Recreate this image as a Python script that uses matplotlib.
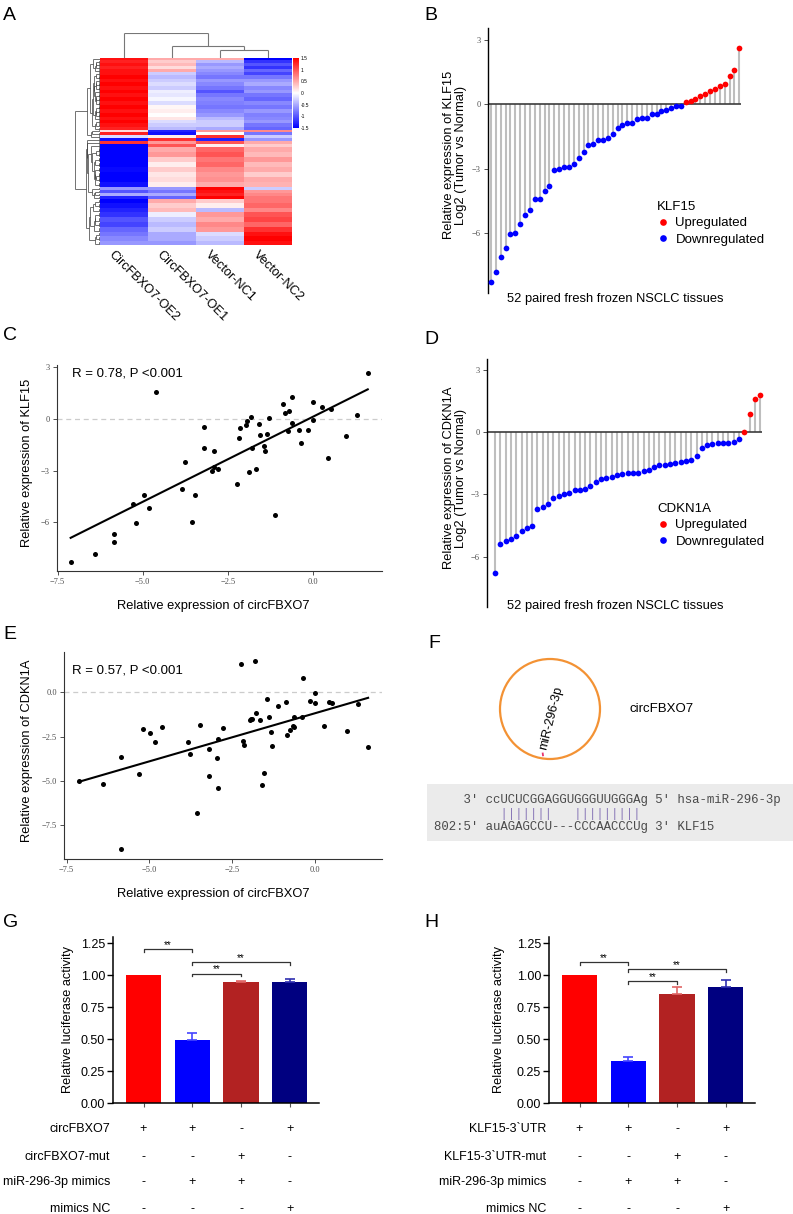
import numpy as np
import matplotlib
matplotlib.use("Agg")
import matplotlib.pyplot as plt
from matplotlib.colors import LinearSegmentedColormap
from matplotlib.collections import LineCollection
from matplotlib.patches import Circle, Rectangle
from matplotlib.lines import Line2D
import matplotlib.transforms as mtransforms

plt.rcParams['font.family'] = ['Liberation Sans', 'DejaVu Sans']

# ---------------- data ----------------
hm_samples = ["CircFBXO7-OE2", "CircFBXO7-OE1", "Vector-NC1", "Vector-NC2"]
hm_rows = [2, 3, 3, 3, 3, 3, 4, 3, 4, 4, 3, 4, 4, 4, 4, 4, 4, 3, 3, 4, 3,
           2, 3, 3, 3, 3, 3,
           5, 5, 5, 5, 5, 5, 5, 5,
           3, 3, 3, 3,
           4, 5, 4,
           5, 5, 5, 5,
           4, 5, 4]
hm_oe2 = [1.4, 1.3, 1.4, 1.3, 1.4, 1.4, 1.5, 1.4, 1.5, 1.4, 1.5, 1.4, 1.5, 1.4, 1.5, 1.4, 1.5, 1.4, 1.5, 1.4, 1.3,
          0.2, 1.3, -0.2, -1.4, 1.2, -1.5,
          -1.5, -1.5, -1.5, -1.5, -1.45, -1.5, -1.5, -1.4,
          -0.6, -1.0, -0.5, -1.3,
          -1.5, -1.4, -1.3,
          -1.2, -1.0, -1.1, -0.9,
          -0.8, -0.7, -0.6]
hm_oe1 = [0.5, 0.3, 0.4, 0.2, 0.5, -0.3, -0.4, -0.3, -0.2, -0.3, -0.1, -0.15, -0.05, -0.2, 0.05, 0.1, 0.0, 0.15, -0.2, -0.3, -0.4,
          -1.3, -1.4, 0.1, 1.2, 0.6, 1.0,
          0.5, 0.6, 0.3, 0.1, 0.3, 0.15, 0.2, 0.1,
          -0.6, -0.8, -0.5, -0.9,
          0.5, 0.3, 0.4,
          -0.1, -0.3, -0.4, -0.3,
          -0.5, -0.5, -0.6]
hm_nc1 = [0.5, -0.4, -0.6, -0.5, -0.6, -0.7, -0.8, -0.6, -0.7, -0.8, -1.0, -0.8, -0.7, -0.75, -0.8, -0.7, -0.6, -0.4, -0.3, -0.3, -0.5,
          0.6, 0.0, 1.2, -1.3, 1.0, 0.1,
          0.9, 1.0, 0.8, 0.9, 0.7, 0.6, 0.65, 0.5,
          1.5, 1.4, 1.3, 1.5,
          0.3, 0.1, -0.4,
          0.6, 0.5, 0.7, 0.6,
          -0.2, -0.3, -0.4]
hm_nc2 = [-1.5, -1.2, -1.0, -1.2, -0.9, -1.1, -0.8, -0.6, -0.5, -0.7, -0.6, -0.8, -0.9, -0.7, -0.8, -0.6, -0.75, -0.7, -0.6, -0.8, -0.9,
          0.7, -0.8, -0.3, -0.6, 0.5, 0.3,
          0.5, 0.4, 0.6, 0.4, 0.5, 0.3, 0.5, 0.45,
          -0.3, 0.6, 0.7, 0.8,
          0.8, 0.9, 0.7,
          1.0, 1.1, 0.9, 1.2,
          1.4, 1.5, 1.4]

klf15_fc = [-8.29, -7.83, -7.10, -6.68, -6.06, -6.00, -5.60, -5.18, -4.94, -4.41, -4.40, -4.04, -3.81,
            -3.05, -3.02, -2.95, -2.95, -2.80, -2.49, -2.25, -1.88, -1.87, -1.69, -1.69, -1.57, -1.38,
            -1.10, -0.98, -0.90, -0.89, -0.70, -0.64, -0.64, -0.48, -0.44, -0.33, -0.28, -0.20, -0.08, -0.08,
            0.08, 0.14, 0.26, 0.37, 0.48, 0.61, 0.70, 0.85, 0.96, 1.29, 1.60, 2.64]
cdkn1a_fc = [-6.80, -5.40, -5.23, -5.15, -5.00, -4.75, -4.62, -4.52, -3.71, -3.62, -3.44, -3.17, -3.07,
             -2.96, -2.94, -2.80, -2.78, -2.72, -2.59, -2.38, -2.27, -2.22, -2.17, -2.08, -2.03, -1.98,
             -1.95, -1.95, -1.87, -1.83, -1.69, -1.58, -1.56, -1.55, -1.47, -1.42, -1.39, -1.35, -1.14,
             -0.74, -0.63, -0.55, -0.53, -0.53, -0.50, -0.45, -0.32,
             0.0, 0.87, 1.61, 1.80]

circ_c = [-7.12, -6.40, -5.85, -5.85, -5.30, -5.19, -4.96, -4.81, -4.60, -3.84, -3.76, -3.56, -3.46,
          -3.19, -3.19, -2.96, -2.92, -2.90, -2.78, -2.24, -2.16, -2.14, -1.97, -1.95, -1.88, -1.82,
          -1.78, -1.67, -1.59, -1.55, -1.43, -1.40, -1.34, -1.29, -1.13, -0.87, -0.82, -0.74, -0.69,
          -0.63, -0.62, -0.40, -0.36, -0.14, -0.01, 0.00, 0.27, 0.44, 0.52, 0.96, 1.29, 1.61]
klf15_c = [-8.28, -7.84, -6.70, -7.12, -4.94, -6.04, -4.40, -5.19, 1.56, -4.05, -2.51, -5.98, -4.42,
           -0.46, -1.68, -3.01, -2.82, -1.87, -2.93, -3.80, -1.14, -0.52, -0.39, -0.12, -3.07, 0.10,
           -1.70, -2.93, -0.31, -0.93, -1.58, -1.89, -0.91, 0.04, -5.60, 0.85, 0.35, -0.71, 0.46,
           1.27, -0.23, -0.66, -1.43, -0.66, 0.95, -0.08, 0.66, -2.28, 0.56, -1.00, 0.21, 2.63]

circ_e = [-7.14, -6.41, -5.86, -5.86, -5.31, -5.21, -4.97, -4.83, -4.62, -3.85, -3.78, -3.56, -3.47,
          -3.20, -3.20, -2.97, -2.92, -2.92, -2.79, -2.25, -2.17, -2.14, -1.97, -1.94, -1.89, -1.82,
          -1.77, -1.67, -1.59, -1.55, -1.44, -1.40, -1.33, -1.29, -1.13, -0.88, -0.84, -0.75, -0.68,
          -0.64, -0.63, -0.40, -0.36, -0.15, -0.01, -0.01, 0.27, 0.43, 0.51, 0.96, 1.30, 1.60]
cdkn1a_e = [-5.03, -5.18, -3.63, -8.87, -4.63, -2.07, -2.30, -2.81, -1.98, -2.82, -3.47, -6.84, -1.86,
            -3.18, -4.75, -3.73, -2.62, -5.42, -2.02, 1.58, -2.73, -2.98, -1.56, -1.49, -1.49, 1.77,
            -1.19, -1.56, -5.25, -4.54, -0.38, -1.39, -2.26, -3.01, -0.79, -0.55, -2.39, -2.11, -1.90,
            -1.37, -1.98, -1.41, 0.83, -0.49, -0.02, -0.58, -1.88, -0.57, -0.60, -2.20, -0.68, -3.09]

luc_colors = ["#FF0000", "#0000FF", "#B22222", "#000080"]
luc_err_colors = ["#FF0000", "#4444FF", "#E06666", "#3030B0"]
g_values = [1.0, 0.49, 0.945, 0.948]
g_err = [0.0, 0.06, 0.012, 0.022]
h_values = [1.0, 0.325, 0.853, 0.903]
h_err = [0.0, 0.033, 0.05, 0.058]

g_rows = ["circFBXO7", "circFBXO7-mut", "miR-296-3p mimics", "mimics NC"]
h_rows = ["KLF15-3`UTR", "KLF15-3`UTR-mut", "miR-296-3p mimics", "mimics NC"]
design = [["+", "+", "-", "+"],
          ["-", "-", "+", "-"],
          ["-", "+", "+", "-"],
          ["-", "-", "-", "+"]]
# (left bar, right bar, bracket height, label height)
g_brackets = [(0, 1, 1.20, 1.235), (1, 2, 1.012, 1.047), (1, 3, 1.099, 1.134)]
h_brackets = [(0, 1, 1.10, 1.135), (1, 2, 0.95, 0.985), (1, 3, 1.046, 1.081)]

# ---------------- helpers ----------------
W, H = 793, 1214
fig = plt.figure(figsize=(W / 100, H / 100), dpi=100)


def ax_px(x0, y0, x1, y1, **kw):
    return fig.add_axes([x0 / W, 1 - y1 / H, (x1 - x0) / W, (y1 - y0) / H], **kw)


def fx(x):
    return x / W


def fy(y):
    return 1 - y / H


def adjacent_ward(X, size_boost=0.0, power=0.5):
    X = np.asarray(X, float)
    cl = [[1, X[i].copy(), float(i), 0.0, 0.0] for i in range(len(X))]
    segs = []
    while len(cl) > 1:
        d = [np.sqrt(2 * a[0] * b[0] / (a[0] + b[0])) * np.linalg.norm(a[1] - b[1])
             for a, b in zip(cl[:-1], cl[1:])]
        i = int(np.argmin(d))
        a, b = cl[i], cl[i + 1]
        n = a[0] + b[0]
        h = max(d[i], a[3], b[3])
        hd = max(h ** power + size_boost * np.log2(n), a[4], b[4])
        segs += [[(a[2], a[4]), (a[2], hd)], [(b[2], b[4]), (b[2], hd)], [(a[2], hd), (b[2], hd)]]
        cl[i:i + 2] = [[n, (a[1] * a[0] + b[1] * b[0]) / n, (a[2] + b[2]) / 2, h, hd]]
    return segs, cl[0][4]


def letter(ch, x, y_base):
    fig.text(fx(x), fy(y_base), ch, fontsize=14, ha='left', va='baseline')


serif = 'Liberation Serif'
tick_gray = '#4D4D4D'

# ---------------- Panel A: heatmap ----------------
M = np.column_stack([np.repeat(hm_oe2, hm_rows), np.repeat(hm_oe1, hm_rows),
                     np.repeat(hm_nc1, hm_rows), np.repeat(hm_nc2, hm_rows)])
N = M.shape[0]
cmap = LinearSegmentedColormap.from_list("bwr2", ["#0000FF", "#FFFFFF", "#FF0000"])
axA = ax_px(100, 58, 292, 245)
im = axA.imshow(M, aspect='auto', cmap=cmap, vmin=-1.5, vmax=1.5, interpolation='nearest')
axA.set_axis_off()

# row dendrogram
axR = ax_px(75, 58, 100, 245)
rsegs, rtop = adjacent_ward(M, size_boost=0.12)
rsegs = [[(h, p) for p, h in s] for s in rsegs]
axR.add_collection(LineCollection(rsegs, colors='#3A3A3A', linewidths=0.5))
axR.set_ylim(N - 0.5, -0.5)
axR.set_xlim(rtop * 1.01, 0)
axR.set_axis_off()

# column dendrogram
axT = ax_px(100, 33, 292, 58)
csegs, ctop = adjacent_ward(M.T, power=1.0)
axT.add_collection(LineCollection(csegs, colors='#777777', linewidths=0.8))
axT.set_xlim(-0.5, 3.5)
axT.set_ylim(0, ctop * 1.0)
axT.set_axis_off()

# colorbar
cax = ax_px(293, 58, 299, 128)
cb = fig.colorbar(im, cax=cax, ticks=[-1.5, -1, -0.5, 0, 0.5, 1, 1.5])
cb.ax.set_yticklabels(['-1.5', '-1', '-0.5', '0', '0.5', '1', '1.5'])
cb.ax.tick_params(labelsize=3.5, length=0, pad=1.5)
cb.outline.set_visible(False)

for j, name in enumerate(hm_samples):
    xc = 100 + 48 * j + 24 - 9
    fig.text(fx(xc), fy(249), name, rotation=-45, rotation_mode='anchor',
             ha='left', va='top', fontsize=9.2)

letter('A', 3, 20)

# ---------------- lollipop panels B / D ----------------
def lollipop(box, vals, xlim, ylim, ylabel, gene, legend_top, xlab_y):
    ax = ax_px(*box)
    vals = np.asarray(vals)
    idx = np.arange(1, len(vals) + 1)
    ax.vlines(idx, 0, vals, color='#BEBEBE', lw=1.5, zorder=1)
    ax.hlines(0, xlim[0], idx[-1] + 0.4, color='#3C3C3C', lw=1.2, zorder=2)
    up = vals > 0 if gene == 'KLF15' else vals >= 0
    ax.scatter(idx[~up], vals[~up], s=17, color='#0000FF', lw=0, zorder=3)
    ax.scatter(idx[up], vals[up], s=17, color='#FF0000', lw=0, zorder=3)
    ax.set_xlim(*xlim)
    ax.set_ylim(*ylim)
    ax.set_xticks([])
    ax.set_yticks([-6, -3, 0, 3])
    ax.tick_params(axis='y', labelsize=6, labelcolor=tick_gray, color='#333333',
                   length=3, width=0.6, pad=2, labelfontfamily=serif)
    for s in ['top', 'right', 'bottom']:
        ax.spines[s].set_visible(False)
    ax.spines['left'].set_linewidth(1.0)
    ax.set_ylabel(ylabel, fontsize=9.3, linespacing=1.05)
    x0 = box[0]
    ax.yaxis.set_label_coords((467 - x0) / (box[2] - box[0]), 0.52)
    fig.text(fx(615), fy(xlab_y), "52 paired fresh frozen NSCLC tissues", fontsize=9.3,
             ha='center', va='center')
    handles = [Line2D([], [], ls='none', marker='o', ms=4.8, mec='none', mfc='#FF0000'),
               Line2D([], [], ls='none', marker='o', ms=4.8, mec='none', mfc='#0000FF')]
    fig.legend(handles, ['Upregulated', 'Downregulated'], title=gene, loc='upper left',
               bbox_to_anchor=(fx(657), fy(legend_top)), frameon=False, fontsize=9.5,
               title_fontsize=9.5, alignment='left', borderpad=0, handlelength=0.9,
               handletextpad=0.5, labelspacing=0.32, borderaxespad=0)
    return ax

lollipop((488, 28, 743, 293), klf15_fc, (0.38, 52.76), (-8.8, 3.55),
         "Relative expression of KLF15\nLog2 (Tumor vs Normal)", "KLF15", 201, 299)
letter('B', 424, 20)

lollipop((486.7, 359, 765, 607), cdkn1a_fc, (-0.57, 51.9), (-8.43, 3.54),
         "Relative expression of CDKN1A\nLog2 (Tumor vs Normal)", "CDKN1A", 503, 606)
letter('D', 424, 344)

# ---------------- scatter panels C / E ----------------
def scatter_panel(box, x, y, xlim, ylim, yticks, yfmt, ylabel, rtext, rpos, ylab_x):
    ax = ax_px(*box)
    x = np.asarray(x)
    y = np.asarray(y)
    ax.axhline(0, color='#CCCCCC', lw=0.9, ls=(0, (4, 3)), zorder=1)
    ax.scatter(x, y, s=13, color='black', lw=0, zorder=3)
    m, b = np.polyfit(x, y, 1)
    xs = np.array([x.min(), x.max()])
    ax.plot(xs, m * xs + b, color='black', lw=1.5, zorder=2)
    ax.set_xlim(*xlim)
    ax.set_ylim(*ylim)
    ax.set_xticks([-7.5, -5.0, -2.5, 0.0])
    ax.set_xticklabels(['\u22127.5', '\u22125.0', '\u22122.5', '0.0'])
    ax.set_yticks(yticks)
    ax.set_yticklabels([yfmt(v) for v in yticks])
    ax.tick_params(labelsize=6, labelcolor=tick_gray, color='#333333', length=3,
                   width=0.6, pad=2, labelfontfamily=serif)
    for s in ['top', 'right']:
        ax.spines[s].set_visible(False)
    for s in ['left', 'bottom']:
        ax.spines[s].set_color('#333333')
        ax.spines[s].set_linewidth(0.8)
    ax.text(rpos[0], rpos[1], rtext, transform=ax.transAxes, fontsize=9.5, va='center', ha='left')
    ax.set_ylabel(ylabel, fontsize=9.3)
    ax.yaxis.set_label_coords((ylab_x - box[0]) / (box[2] - box[0]), 0.525)
    ax.set_xlabel("Relative expression of circFBXO7", fontsize=9.3)
    ax.xaxis.set_label_coords((213 - box[0]) / (box[2] - box[0]), -(600 - box[3]) / (box[3] - box[1]))
    return ax

def fmt_int(v):
    return ('\u2212' if v < 0 else '') + str(int(abs(v)))

def fmt_1(v):
    return ('\u2212' if v < 0 else '') + '%.1f' % abs(v)

scatter_panel((56.7, 365, 381.7, 570.7), circ_c, klf15_c, (-7.53, 2.02), (-8.80, 3.11),
              [-6, -3, 0, 3], fmt_int, "Relative expression of KLF15", "R = 0.78, P <0.001",
              (0.047, 0.96), 33)
letter('C', 3, 340)

axE = scatter_panel((64, 652.3, 381.7, 858.7), circ_e, cdkn1a_e, (-7.58, 2.01), (-9.40, 2.26),
                    [-7.5, -5.0, -2.5, 0.0], fmt_1, "Relative expression of CDKN1A",
                    "R = 0.57, P <0.001", (0.025, 0.914), 33)
axE.xaxis.set_label_coords((213 - 64) / (381.7 - 64), -(888 - 858.7) / (858.7 - 652.3))
letter('E', 3, 639)

# ---------------- Panel F ----------------
axF = ax_px(427, 630, 793, 900)
axF.set_xlim(427, 793)
axF.set_ylim(900, 630)
axF.set_axis_off()
axF.add_patch(Circle((550, 709), 50, fill=False, ec='#F39234', lw=1.6))
axF.text(551.5, 718, "miR-296-3p", rotation=76, ha='center', va='center', fontsize=9)
axF.plot([542.6, 543.1], [752.6, 756.2], color='#E8336E', lw=1.3, solid_capstyle='butt')
axF.text(630, 708.5, "circFBXO7", ha='left', va='center', fontsize=9.5)
axF.add_patch(Rectangle((427, 784.3), 366, 56.7, color='#EBEBEB', lw=0))
mono = dict(family='Liberation Mono', fontsize=8.9, color='#4A4A4A', va='center', ha='left')
axF.text(434.3, 800, "    3' ccUCUCGGAGGUGGGUUGGGAg 5' hsa-miR-296-3p", **mono)
axF.text(434.3, 813.5, "         |||||||   |||||||||", **{**mono, 'color': '#8A79B8'})
axF.text(434.3, 827.3, "802:5' auAGAGCCU---CCCAACCCUg 3' KLF15", **mono)
letter('F', 428, 648)

# ---------------- luciferase panels G / H ----------------
def luc_panel(box, vals, errs, brackets, rows, label_x):
    ax = ax_px(*box)
    pos = np.arange(len(vals))
    ax.bar(pos, vals, width=0.72, color=luc_colors, zorder=2)
    for p, v, e, c in zip(pos, vals, errs, luc_err_colors):
        if e > 0:
            ax.errorbar(p, v, yerr=[[0], [e]], fmt='none', ecolor=c, elinewidth=1.2,
                        capsize=3.6, capthick=1.2, zorder=3)
    for l, r, yb, yt in brackets:
        ax.plot([l, l, r, r], [yb - 0.022, yb, yb, yb - 0.022], color='#333333', lw=0.9)
        ax.text((l + r) / 2, yt, "**", ha='center', va='center', fontsize=7)
    ax.set_xlim(-0.62, 3.6)
    ax.set_ylim(0, 1.30)
    ax.set_yticks([0, 0.25, 0.5, 0.75, 1.0, 1.25])
    ax.set_yticklabels(['0.00', '0.25', '0.50', '0.75', '1.00', '1.25'])
    ax.set_xticks(pos)
    ax.set_xticklabels([])
    ax.tick_params(axis='y', labelsize=9, length=4, width=1, pad=2)
    ax.tick_params(axis='x', length=3, width=0.8, color='#555555')
    for s in ['top', 'right']:
        ax.spines[s].set_visible(False)
    for s in ['left', 'bottom']:
        ax.spines[s].set_linewidth(1.1)
    ax.set_ylabel("Relative luciferase activity", fontsize=9.2)
    ax.yaxis.set_label_coords(label_x, 0.505)
    trans = mtransforms.blended_transform_factory(ax.transData, fig.transFigure)
    for r, (name, yrow) in enumerate(zip(rows, [1129, 1157, 1182, 1209])):
        fig.text(fx(box[0] - 3), fy(yrow), name, ha='right', va='center', fontsize=9)
        for p in pos:
            ax.text(p, fy(yrow), design[r][p], transform=trans, ha='center', va='center',
                    fontsize=9)
    return ax

luc_panel((113.3, 936.7, 319, 1103), g_values, g_err, g_brackets, g_rows, -0.193)
letter('G', 3, 927)
luc_panel((549.3, 936.7, 755, 1103), h_values, h_err, h_brackets, h_rows, -0.215)
letter('H', 424, 927)

fig.savefig("out.png", dpi=100)
